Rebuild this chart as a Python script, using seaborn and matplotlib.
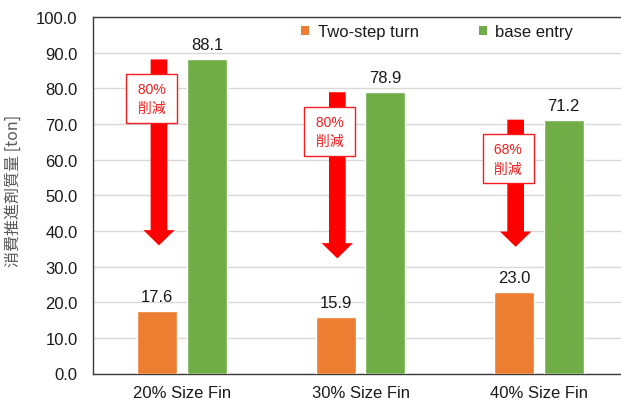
import matplotlib
matplotlib.use("Agg")
import matplotlib.pyplot as plt
from matplotlib.patches import FancyArrowPatch, Patch
import seaborn as sns
import pandas as pd

# Propellant mass per fin size for the two entry strategies
fins = ["20% Size Fin", "30% Size Fin", "40% Size Fin"]
two_step = [17.6, 15.9, 23.0]
base_entry = [88.1, 78.9, 71.2]
series_names = ["Two-step turn", "base entry"]
y_ticks = [0, 10, 20, 30, 40, 50, 60, 70, 80, 90, 100]

df = pd.DataFrame({
    "fin": fins * 2,
    "mass": two_step + base_entry,
    "case": [series_names[0]] * len(fins) + [series_names[1]] * len(fins),
})

sns.set_theme(style="white")
plt.rcParams["font.family"] = ["Liberation Sans", "Noto Sans CJK JP", "DejaVu Sans"]

colors = ["#ED7D31", "#70AD47"]
fig = plt.figure(figsize=(6.21, 4.02), dpi=100)
ax = fig.add_axes([93 / 621, 27.5 / 402, 535 / 621, 356.5 / 402])

sns.barplot(data=df, x="fin", y="mass", hue="case", hue_order=series_names,
            palette=colors, saturation=1, width=0.56, gap=0.2, ax=ax,
            legend=False, zorder=3)

ax.set_ylim(0, 100)
ax.set_yticks(y_ticks)
ax.set_yticklabels([f"{v:.1f}" for v in y_ticks])
ax.grid(axis="y", color="#d9d9d9", linewidth=1.0, zorder=0)
ax.set_axisbelow(True)
for side in ["left", "top", "bottom"]:
    ax.spines[side].set_color("#3a3a3a")
    ax.spines[side].set_linewidth(1.0)
ax.spines["right"].set_visible(False)
ax.tick_params(axis="both", length=0, labelsize=12, colors="#1a1a1a")
ax.tick_params(axis="y", pad=11)
ax.tick_params(axis="x", pad=8)
ax.set_xlabel("")
ax.set_ylabel("消費推進剤質量 [ton]", fontsize=11.5, color="#595959",
              family=["Noto Sans CJK JP", "DejaVu Sans"])
ax.yaxis.set_label_coords(-0.134, 0.515)

# Value labels above each bar
for cont in ax.containers:
    ax.bar_label(cont, fmt="%.1f", padding=5, fontsize=12, color="#1a1a1a")

# Reduction arrows from base-entry level down toward the two-step bar
for i, bar in enumerate(ax.containers[0]):
    x = bar.get_x() + bar.get_width() / 2 + 0.01
    top = base_entry[i]
    tip = two_step[i] + 0.26 * (base_entry[i] - two_step[i])
    arrow = FancyArrowPatch((x, top), (x, tip),
                            arrowstyle="simple,head_length=11,head_width=22.5,tail_width=12",
                            mutation_scale=1, shrinkA=0, shrinkB=0,
                            color="#ff0000", linewidth=0, zorder=4)
    ax.add_patch(arrow)
    pct = round((1 - two_step[i] / base_entry[i]) * 100)
    ax.text(x - 0.042, top - 11, f" {pct}% \n 削減 ", ha="center", va="center",
            fontsize=10, color="#f01e1e", linespacing=1.5, zorder=5,
            family=["Liberation Sans", "Noto Sans CJK JP"],
            bbox=dict(boxstyle="square,pad=0.55", facecolor="white",
                      edgecolor="#f01e1e", linewidth=1.0))

handles = [Patch(facecolor=c, edgecolor="none") for c in colors]
ax.legend(handles, series_names, loc="center", bbox_to_anchor=(0.643, 0.958),
          ncol=2, frameon=False, fontsize=12, handlelength=0.5, handleheight=0.5,
          handletextpad=0.5, columnspacing=3.6, borderpad=0, labelcolor="#1a1a1a")

fig.savefig("out.png", dpi=100)
